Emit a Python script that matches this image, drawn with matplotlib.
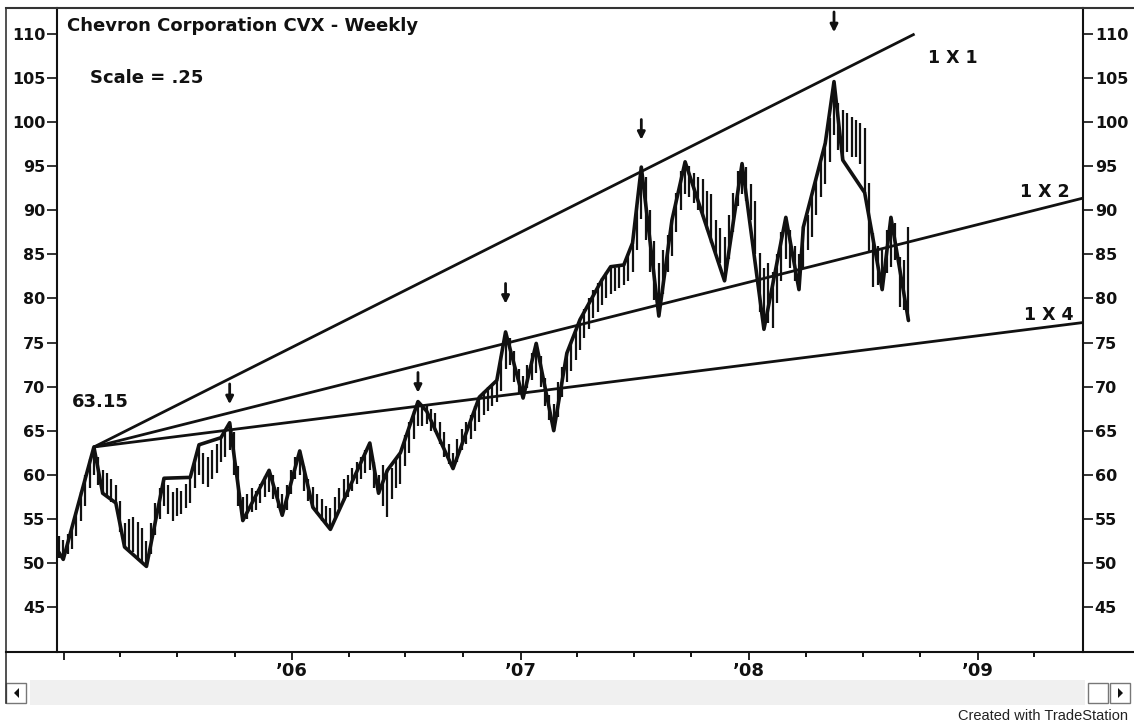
import pandas as pd
import matplotlib
matplotlib.use('Agg')
import matplotlib.pyplot as plt
from matplotlib.lines import Line2D
from matplotlib.patches import Rectangle, Polygon

W, H = 1134, 723

# 週足の高値・安値 (2004-12-24 の週から)
highs = [53.0, 52.6, 53.3, 54.0, 55.8, 58.0, 60.0, 61.8, 63.15, 62.0,
         60.5, 60.2, 59.5, 58.8, 57.0, 54.5, 55.0, 55.2, 54.6, 54.0,
         52.5, 54.5, 56.8, 58.5, 59.6, 58.8, 58.0, 58.5, 58.2, 59.0,
         59.7, 61.8, 63.4, 62.5, 62.0, 62.8, 63.5, 64.2, 65.0, 65.9,
         64.8, 61.0, 57.5, 57.8, 58.5, 58.2, 59.0, 59.8, 60.5, 60.0,
         58.6, 57.8, 58.8, 60.5, 62.0, 62.7, 61.0, 59.5, 58.6, 57.8,
         57.2, 56.5, 56.2, 57.5, 58.5, 59.5, 60.0, 60.8, 61.5, 62.0,
         62.8, 63.6, 61.5, 60.0, 61.1, 60.5, 60.8, 61.8, 62.5, 64.5,
         66.0, 67.2, 68.3, 67.8, 68.0, 67.5, 67.0, 66.0, 64.8, 63.5,
         62.5, 64.0, 65.2, 66.0, 66.8, 67.8, 68.8, 69.5, 70.0, 70.2,
         70.7, 73.5, 76.2, 75.5, 74.0, 72.0, 71.2, 72.5, 73.8, 74.9,
         73.5, 71.0, 69.0, 68.0, 70.5, 72.2, 73.8, 75.0, 76.5, 77.6,
         78.8, 80.0, 81.0, 81.8, 82.3, 83.0, 83.6, 83.4, 83.6, 83.8,
         85.0, 86.3, 90.5, 94.9, 93.8, 90.0, 86.5, 84.0, 85.5, 87.2,
         88.9, 92.0, 94.5, 95.5, 95.0, 94.2, 93.8, 93.5, 92.2, 91.9,
         88.9, 88.0, 87.0, 89.5, 92.0, 94.5, 95.3, 94.9, 93.0, 91.0,
         85.2, 83.5, 84.0, 83.0, 85.0, 87.5, 89.2, 87.8, 86.0, 85.0,
         88.1, 89.5, 91.5, 93.5, 95.5, 97.6, 100.5, 104.6, 102.2, 101.4,
         101.0, 100.6, 100.2, 99.9, 99.3, 93.1, 87.4, 86.0, 85.5, 87.8,
         89.2, 88.6, 84.7, 84.4, 88.1]
lows = [50.6, 50.4, 51.0, 51.6, 53.0, 54.8, 56.5, 58.5, 60.0, 58.8,
        57.9, 57.5, 56.9, 56.8, 53.5, 51.8, 51.5, 51.2, 50.5, 50.2,
        49.6, 51.0, 53.2, 55.0, 56.5, 55.5, 54.8, 55.3, 55.6, 56.2,
        56.8, 58.5, 60.0, 59.0, 58.6, 59.5, 60.2, 61.5, 62.0, 62.8,
        60.0, 56.5, 54.8, 55.0, 55.8, 56.0, 56.8, 57.5, 58.0, 57.2,
        56.2, 55.4, 56.0, 57.8, 59.5, 60.0, 58.2, 57.0, 56.3, 55.5,
        54.8, 54.3, 53.8, 55.0, 56.2, 57.0, 57.5, 58.2, 59.0, 59.5,
        60.2, 60.5, 58.5, 57.9, 56.5, 55.2, 57.2, 58.5, 59.0, 61.0,
        62.5, 64.0, 65.5, 65.5, 65.8, 65.0, 64.8, 63.5, 62.0, 61.2,
        60.7, 61.5, 62.8, 63.5, 64.0, 65.0, 66.0, 66.8, 67.2, 67.8,
        68.2, 69.5, 72.0, 72.5, 70.5, 69.2, 68.7, 69.8, 70.8, 71.5,
        70.0, 67.8, 66.2, 65.0, 66.5, 68.8, 70.5, 71.8, 73.0, 74.2,
        75.5, 76.5, 77.8, 78.5, 79.2, 80.0, 80.5, 80.8, 81.2, 81.5,
        82.0, 83.0, 85.5, 89.0, 86.6, 83.0, 79.8, 78.0, 80.5, 83.0,
        84.8, 87.5, 90.0, 91.8, 91.5, 90.8, 90.0, 89.2, 87.8, 86.3,
        85.2, 84.0, 82.0, 84.5, 87.5, 90.5, 91.8, 91.0, 88.9, 85.0,
        78.5, 76.5, 77.2, 76.6, 79.5, 82.0, 84.5, 83.5, 82.0, 81.0,
        83.5, 85.5, 87.0, 89.5, 91.5, 93.0, 95.5, 98.5, 96.8, 95.7,
        96.6, 96.1, 96.0, 95.2, 92.0, 85.2, 81.3, 81.5, 81.0, 82.9,
        83.6, 84.4, 79.0, 78.7, 77.5]

# スイングライン (週番号, 価格)
swing_idx = [0, 1, 8, 10, 13, 15, 20, 24, 30, 32,
             37, 39, 42, 48, 51, 55, 58, 62, 71, 73,
             75, 78, 82, 84, 90, 96, 100, 102, 106, 109,
             113, 116, 119, 124, 126, 129, 131, 133, 137, 140,
             143, 152, 156, 161, 166, 169, 170, 175, 177, 179,
             184, 188, 190, 194]
swing_px = [51.2, 50.4, 63.15, 57.9, 56.8, 51.8, 49.6, 59.6, 59.7, 63.4,
            64.2, 65.9, 54.8, 60.5, 55.4, 62.7, 56.3, 53.8, 63.6, 57.9,
            60.5, 62.5, 68.3, 67.2, 60.7, 68.8, 70.7, 76.2, 68.7, 74.9,
            65.0, 73.8, 77.6, 82.1, 83.6, 83.8, 86.3, 94.9, 78.0, 88.9,
            95.5, 82.0, 95.3, 76.5, 89.2, 81.0, 88.1, 97.6, 104.6, 95.7,
            92.0, 81.0, 89.2, 77.5]

# 矢印 (週番号, 矢印の先の価格)
arrow_idx = [39, 82, 102, 133, 177]
arrow_tip = [68.0, 69.3, 79.4, 98.0, 110.2]

pivot_idx = 8
scale = 0.25
gann_ratios = [1, 2, 4]
gann_labels = ['1 X 1', '1 X 2', '1 X 4']

yticks = list(range(45, 111, 5))
year_ticks = ['2005-01-01', '2006-01-01', '2007-01-01', '2008-01-01', '2009-01-01']
year_labels = ['', '\u201906', '\u201907', '\u201908', '\u201909']


def fx(px):
    return px / W


def fy(py):
    return 1 - py / H


def main():
    dates = pd.date_range('2004-12-24', periods=len(highs), freq='W-FRI')
    x_left = pd.Timestamp('2004-12-21')
    x_right = pd.Timestamp('2009-06-18')

    fig = plt.figure(figsize=(W / 100, H / 100), dpi=100)
    fig.patch.set_facecolor('white')

    # スクロールバー (ラベルより奥に描く)
    fig.add_artist(Rectangle((fx(30), fy(705)), (1085 - 30) / W, 25 / H,
                             transform=fig.transFigure, facecolor='#f0f0f0',
                             edgecolor='none', zorder=0))

    ax = fig.add_axes([fx(57), fy(652), fx(1083) - fx(57), fy(8) - fy(652)])
    ax.set_facecolor('none')

    # 週足バー
    ax.vlines(dates, lows, highs, color='#111111', lw=1.6)

    # スイングライン
    ax.plot(dates[swing_idx], swing_px, color='#111111', lw=2.6,
            solid_joinstyle='round', solid_capstyle='round')

    # ギャン・ライン
    d0 = dates[pivot_idx]
    p0 = highs[pivot_idx]
    for r in gann_ratios:
        slope = scale / r
        if r == 1:
            weeks = (110 - p0) / slope
        else:
            weeks = (x_right - d0) / pd.Timedelta(weeks=1)
        d1 = d0 + pd.Timedelta(weeks=weeks)
        ax.plot([d0, d1], [p0, p0 + slope * weeks], color='#111111', lw=2.0,
                solid_capstyle='butt')

    # 矢印
    for i, tip in zip(arrow_idx, arrow_tip):
        ax.annotate('', xy=(dates[i], tip), xytext=(dates[i], tip + 2.3),
                    arrowprops=dict(arrowstyle='-|>', color='#111111', lw=2.0,
                                    mutation_scale=11, shrinkA=0, shrinkB=0))

    ax.set_xlim(x_left, x_right)
    ax.set_ylim(39.89, 112.95)

    ax.set_yticks(yticks)
    ax.tick_params(axis='y', which='both', left=True, right=True,
                   labelleft=True, labelright=True, direction='out',
                   length=7, width=1.2, pad=1.5, labelsize=11.5, colors='#111111')
    for lab in ax.get_yticklabels():
        lab.set_fontweight('bold')

    ax.set_xticks(pd.to_datetime(year_ticks), labels=year_labels)
    quarters = [d for d in pd.date_range('2005-01-01', '2009-06-01', freq='QS')
                if d.month != 1]
    ax.set_xticks(quarters, minor=True)
    ax.tick_params(axis='x', which='major', direction='out', length=6,
                   width=1.3, pad=1.0, labelsize=13, colors='#111111')
    ax.tick_params(axis='x', which='minor', direction='out', length=3.5, width=1.3)
    for lab in ax.get_xticklabels():
        lab.set_fontweight('bold')

    for s in ['top', 'bottom']:
        ax.spines[s].set_visible(False)
    for s in ['left', 'right']:
        ax.spines[s].set_linewidth(1.5)
        ax.spines[s].set_color('#111111')

    # 外枠と時間軸の線
    fig.add_artist(Line2D([fx(6), 1], [fy(8), fy(8)], color='#333333', lw=1.5))
    fig.add_artist(Line2D([fx(6), fx(6)], [fy(8), fy(703)], color='#333333', lw=1.2))
    fig.add_artist(Line2D([fx(6), 1], [fy(652), fy(652)], color='#111111', lw=1.5))

    # テキスト
    fig.text(fx(67), fy(31), 'Chevron Corporation CVX - Weekly', fontsize=13,
             fontweight='bold', va='baseline', ha='left', color='#111111')
    fig.text(fx(90), fy(83), 'Scale = .25', fontsize=13, fontweight='bold',
             va='baseline', ha='left', color='#111111')
    fig.text(fx(72), fy(407), '63.15', fontsize=13, fontweight='bold',
             va='baseline', ha='left', color='#111111')
    for lab, (px, py) in zip(gann_labels, [(928, 63), (1020, 197), (1024, 320)]):
        fig.text(fx(px), fy(py), lab, fontsize=12.5, fontweight='bold',
                 va='baseline', ha='left', color='#111111')
    fig.text(fx(1128), fy(720), 'Created with TradeStation', fontsize=10.5,
             family='Liberation Sans', va='baseline', ha='right', color='#222222')

    # スクロールボタン
    for x0 in [6, 1088, 1110]:
        fig.add_artist(Rectangle((fx(x0), fy(703)), 20 / W, 20 / H,
                                 transform=fig.transFigure, facecolor='white',
                                 edgecolor='#777777', lw=1.0))
    fig.add_artist(Polygon([(fx(14), fy(693)), (fx(19), fy(688)), (fx(19), fy(698))],
                           closed=True, transform=fig.transFigure,
                           facecolor='#111111', edgecolor='none'))
    fig.add_artist(Polygon([(fx(1123), fy(693)), (fx(1118), fy(688)), (fx(1118), fy(698))],
                           closed=True, transform=fig.transFigure,
                           facecolor='#111111', edgecolor='none'))

    fig.savefig('out.png', dpi=100)


if __name__ == '__main__':
    main()
